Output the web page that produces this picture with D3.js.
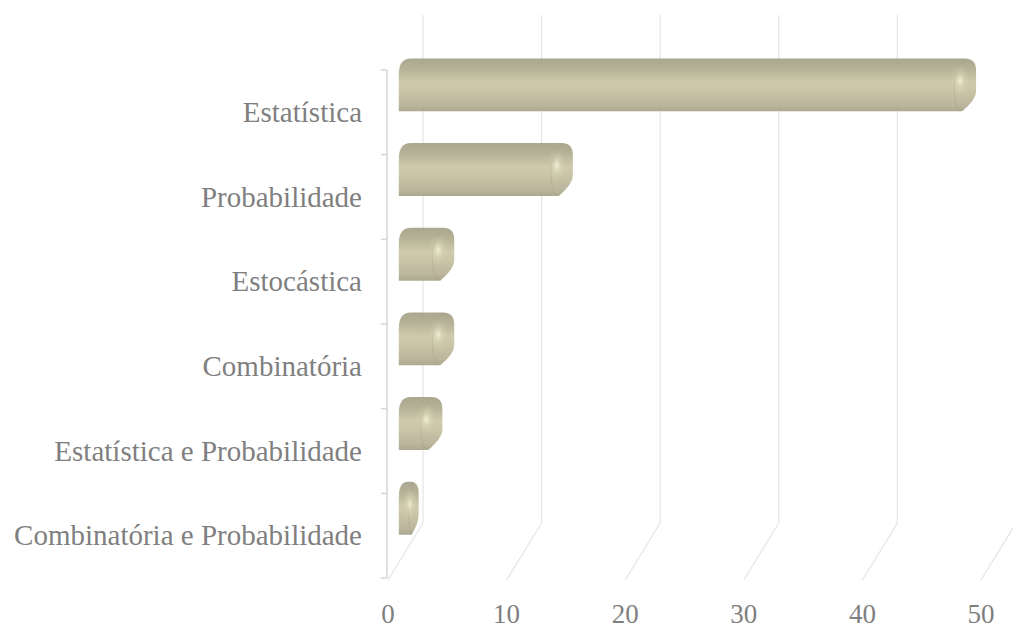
<!DOCTYPE html>
<html>
<head>
<meta charset="utf-8">
<script src="https://cdn.jsdelivr.net/npm/d3@7"></script>
<style>
  body { margin: 0; background: #fff; }
  svg { display: block; }
  text { font-family: "Liberation Serif", "Times New Roman", serif; fill: #7f7f7f; }
</style>
</head>
<body>
<svg></svg>
<script>
const categories = ["Estatística", "Probabilidade", "Estocástica", "Combinatória",
  "Estatística e Probabilidade", "Combinatória e Probabilidade"];
const values = [48, 14, 4, 4, 3, 1];
const tickValues = [0, 10, 20, 30, 40, 50];

const chart = () => {
  const width = 1013;
  const height = 628;
  // perspective offset between front edge and back wall
  const depthX = 36;
  const depthY = -55;
  const barDepth = 0.55;

  var svg = d3.select("svg")
  svg.attr("width", width).attr("height", height)

  let xScale = d3.scaleLinear().domain([0, 50]).range([387, 980])
  let yScale = d3.scaleBand().domain(categories).range([70, 578])

  const defs = svg.append("defs")
  const grad = defs.append("linearGradient")
    .attr("id", "barGrad").attr("x1", 0).attr("y1", 0).attr("x2", 0).attr("y2", 1)
  grad.selectAll("stop")
    .data([["0%", "#a4a187"], ["18%", "#aeaa8e"], ["45%", "#cbc6a5"], ["62%", "#c5c0a0"], ["88%", "#b6b195"], ["100%", "#a6a288"]])
    .enter().append("stop")
    .attr("offset", d => d[0]).attr("stop-color", d => d[1])
  const glow = defs.append("radialGradient").attr("id", "capGlow")
  glow.append("stop").attr("offset", "0%").attr("stop-color", "#f6f3dc").attr("stop-opacity", 0.9)
  glow.append("stop").attr("offset", "45%").attr("stop-color", "#dcd8ba").attr("stop-opacity", 0.45)
  glow.append("stop").attr("offset", "100%").attr("stop-color", "#d0cbac").attr("stop-opacity", 0)

  // back wall gridlines + floor lines
  const backTop = yScale.range()[0] + depthY
  const backBottom = yScale.range()[1] + depthY
  const grid = svg.append("g")
  tickValues.forEach(t => {
    const xf = xScale(t), xb = xScale(t) + depthX
    grid.append("line")
      .attr("x1", xb).attr("x2", xb).attr("y1", backTop).attr("y2", backBottom)
      .attr("stroke", "#e6e6e6").attr("stroke-width", 1.3)
    grid.append("line")
      .attr("x1", xb).attr("y1", backBottom).attr("x2", xf + 1).attr("y2", yScale.range()[1] + 2)
      .attr("stroke", "#e6e6e6").attr("stroke-width", 1.3)
  })

  // category axis (front left edge)
  const axis = svg.append("g")
  axis.append("line")
    .attr("x1", xScale(0)).attr("x2", xScale(0))
    .attr("y1", yScale.range()[0]).attr("y2", yScale.range()[1])
    .attr("stroke", "#d6d6d6").attr("stroke-width", 1.5)
  const tickYs = categories.map(c => yScale(c)).concat([yScale.range()[1]])
  axis.selectAll(".tick")
    .data(tickYs).enter().append("line")
    .attr("x1", xScale(0) - 6).attr("x2", xScale(0))
    .attr("y1", d => d).attr("y2", d => d)
    .attr("stroke", "#d6d6d6").attr("stroke-width", 1.5)
  axis.selectAll(".cat")
    .data(categories).enter().append("text")
    .attr("x", 362)
    .attr("y", d => yScale(d) + yScale.bandwidth() / 2 + 9.5)
    .attr("text-anchor", "end")
    .attr("font-size", 29)
    .text(d => d)

  // value axis labels
  axis.selectAll(".val")
    .data(tickValues).enter().append("text")
    .attr("x", d => xScale(d) + 1)
    .attr("y", 623)
    .attr("text-anchor", "middle")
    .attr("font-size", 27)
    .text(d => d)

  // bar geometry
  const barBox = (v, c) => {
    const h = yScale.bandwidth() * 0.625
    const yc = yScale(c) + yScale.bandwidth() / 2 + depthY * 0.5
    const left = xScale(0) + depthX * barDepth - 8
    const xv = xScale(v) + depthX * barDepth
    return {h, yc, yT: yc - h / 2, yB: yc + h / 2, left, xv, w: xv - left}
  }
  const barPath = (v, c) => {
    const b = barBox(v, c)
    const rl = Math.min(12, b.w * 0.45)
    const rr = Math.min(11, b.w * 0.4)
    const ch = Math.min(14, b.w * 0.35)
    return `M${b.left},${b.yB} L${b.left},${b.yT + b.h * 0.3} Q${b.left},${b.yT} ${b.left + rl},${b.yT}` +
      ` L${b.xv - rr},${b.yT} Q${b.xv},${b.yT} ${b.xv},${b.yT + 12} L${b.xv},${b.yT + b.h * 0.62}` +
      ` Q${b.xv},${b.yT + b.h * 0.78} ${b.xv - ch},${b.yB} Z`
  }

  const bars = svg.append("g")
  bars.selectAll(".bar")
    .data(values).enter().append("path")
    .attr("class", "bar")
    .attr("d", (d, i) => barPath(d, categories[i]))
    .attr("fill", "url(#barGrad)")
    .attr("fill-opacity", 0.93)
  // clip per bar so the rounded cap shading stays inside
  bars.selectAll(".clip")
    .data(values).enter().append("clipPath")
    .attr("id", (d, i) => "clip" + i)
    .append("path").attr("d", (d, i) => barPath(d, categories[i]))
  // rounded cap edge and highlight
  bars.selectAll(".capEdge")
    .data(values).enter().append("path")
    .attr("clip-path", (d, i) => `url(#clip${i})`)
    .attr("d", (d, i) => {
      const b = barBox(d, categories[i])
      const cw = Math.min(22, b.w * 0.5)
      return `M${b.xv - cw * 0.5},${b.yT} Q${b.xv - cw * 1.05},${b.yT + b.h * 0.3} ${b.xv - cw},${b.yc} Q${b.xv - cw},${b.yB - 6} ${b.xv - cw * 0.75},${b.yB}`
    })
    .attr("fill", "none").attr("stroke", "#9f9b80").attr("stroke-opacity", 0.35).attr("stroke-width", 1)
  bars.selectAll(".cap")
    .data(values).enter().append("ellipse")
    .attr("clip-path", (d, i) => `url(#clip${i})`)
    .attr("cx", (d, i) => { const b = barBox(d, categories[i]); return b.xv - Math.min(16, b.w * 0.45) })
    .attr("cy", (d, i) => barBox(d, categories[i]).yc - 4)
    .attr("rx", (d, i) => Math.min(10, barBox(d, categories[i]).w * 0.35))
    .attr("ry", 17)
    .attr("fill", "url(#capGlow)")
};

chart();
</script>
</body>
</html>
